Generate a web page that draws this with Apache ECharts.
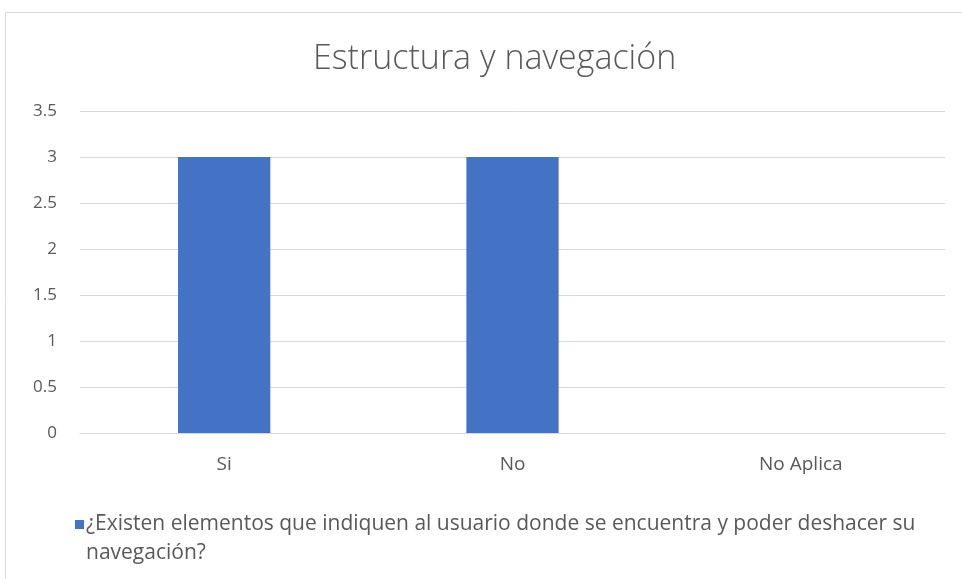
<!DOCTYPE html>
<html>
<head>
<meta charset="utf-8">
<script src="https://cdn.jsdelivr.net/npm/echarts@6/dist/echarts.min.js"></script>
<style>
html,body{margin:0;padding:0;background:#fff;}
#chart{width:962px;height:579px;}
</style>
</head>
<body>
<div id="chart"></div>
<script>
var titleText = 'Estructura y navegación';
var categories = ['Si', 'No', 'No Aplica'];
var seriesName = '¿Existen elementos que indiquen al usuario donde se encuentra y poder deshacer su navegación?';
var values = [3, 3, 0];
var yTicks = {min: 0, max: 3.5, interval: 0.5};

var chart = echarts.init(document.getElementById('chart'));
var font = '"Open Sans", "Noto Sans", sans-serif';
chart.setOption({
  animation: false,
  backgroundColor: '#fff',
  title: {
    text: titleText,
    left: 308,
    top: 37,
    textStyle: {fontFamily: font, fontWeight: 300, fontSize: 34, color: '#595959'}
  },
  graphic: [{
    type: 'rect',
    shape: {x: 5.5, y: 12.5, width: 980, height: 600},
    style: {fill: 'none', stroke: '#d9d9d9', lineWidth: 1},
    silent: true
  }],
  grid: {left: 80, right: 17, top: 111, bottom: 146},
  legend: {
    left: 70,
    top: 505,
    itemWidth: 9,
    itemHeight: 38,
    itemGap: 4,
    icon: 'path://M0,0L9,0L9,9L0,9Z M0,38L0.01,38L0.01,38.01Z',
    formatter: function (n) {
      return n.replace(' su navegación?', ' su\nnavegación?');
    },
    textStyle: {fontFamily: font, fontSize: 21, color: '#595959', lineHeight: 29, padding: [0, 0, 0, -3]}
  },
  xAxis: {
    type: 'category',
    data: categories,
    axisLine: {lineStyle: {color: '#d9d9d9'}},
    axisTick: {show: false},
    axisLabel: {fontFamily: font, fontSize: 19, color: '#595959', margin: 22}
  },
  yAxis: {
    type: 'value',
    min: yTicks.min,
    max: yTicks.max,
    interval: yTicks.interval,
    axisLine: {show: false},
    axisTick: {show: false},
    splitLine: {lineStyle: {color: '#d9d9d9'}},
    axisLabel: {fontFamily: font, fontSize: 17, color: '#595959', margin: 23}
  },
  series: [{
    name: seriesName,
    type: 'bar',
    data: values,
    barWidth: '32%',
    itemStyle: {color: '#4472C4'}
  }]
});
</script>
</body>
</html>
